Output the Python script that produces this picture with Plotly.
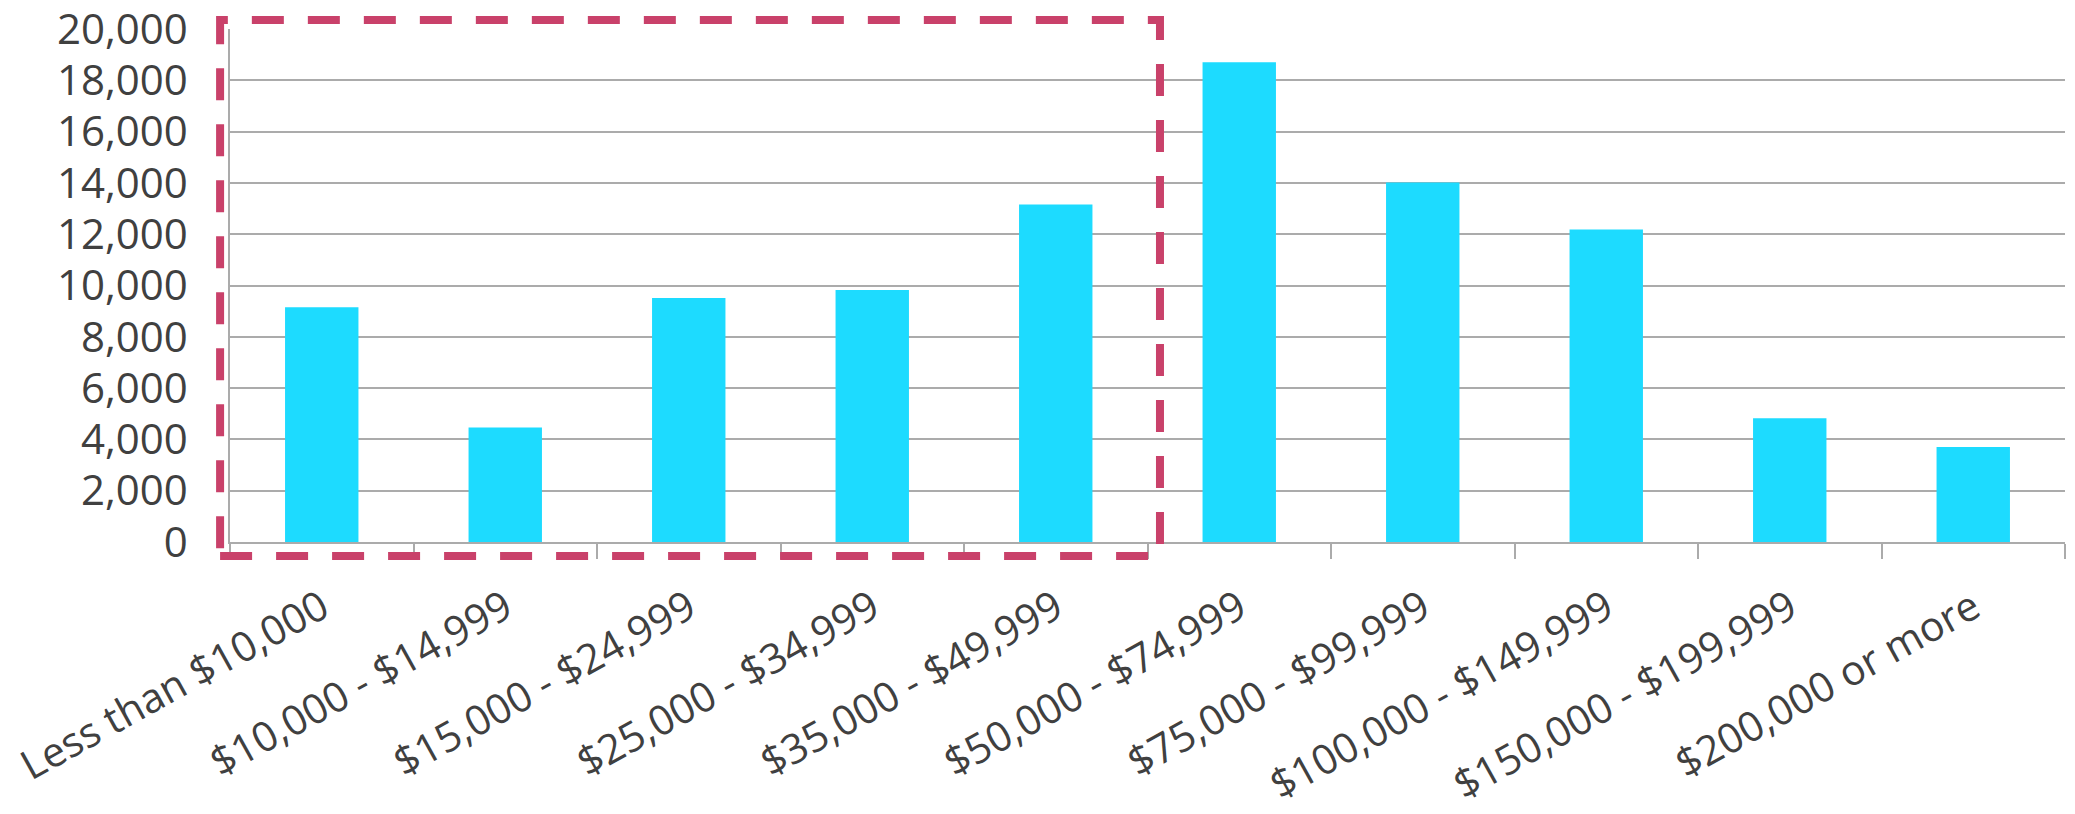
import plotly.graph_objects as go

categories = [
    "Less than $10,000",
    "$10,000 - $14,999",
    "$15,000 - $24,999",
    "$25,000 - $34,999",
    "$35,000 - $49,999",
    "$50,000 - $74,999",
    "$75,000 - $99,999",
    "$100,000 - $149,999",
    "$150,000 - $199,999",
    "$200,000 or more",
]
households = [9150, 4460, 9510, 9820, 13160, 18700, 14020, 12180, 4820, 3700]
y_ticks = [0, 2000, 4000, 6000, 8000, 10000, 12000, 14000, 16000, 18000, 20000]

BAR = "#1DDBFF"
GRID = "#ABABAB"
TEXT = "#404040"
HIGHLIGHT = "#C9416A"
FONT = "Open Sans"
FONT_SIZE = 41

fig = go.Figure(
    go.Bar(
        x=categories,
        y=households,
        marker=dict(color=BAR, line=dict(width=0)),
    )
)

fig.update_layout(
    width=2075,
    height=814,
    margin=dict(l=230, r=10, t=29, b=272),
    paper_bgcolor="white",
    plot_bgcolor="white",
    bargap=0.6,
    showlegend=False,
    font=dict(family=FONT, size=FONT_SIZE, color=TEXT),
)

fig.update_xaxes(
    type="category",
    automargin=False,
    showline=True,
    linecolor=GRID,
    linewidth=1.5,
    ticks="outside",
    tickson="boundaries",
    ticklen=15,
    tickwidth=1.5,
    tickcolor=GRID,
    tickangle=-29,
    ticklabelstandoff=24,
    ticklabeloverflow="allow",
    tickfont=dict(family=FONT, size=FONT_SIZE, color=TEXT),
    showgrid=False,
)

fig.update_yaxes(
    automargin=False,
    range=[0, 20000],
    tickvals=y_ticks,
    tickformat=",d",
    showgrid=True,
    gridcolor=GRID,
    gridwidth=1.5,
    showline=True,
    linecolor=GRID,
    linewidth=1.5,
    ticks="",
    ticklabelstandoff=32,
    ticklabeloverflow="allow",
    tickfont=dict(family=FONT, size=FONT_SIZE + 1, color=TEXT),
    zeroline=False,
)

fig.add_shape(
    type="rect",
    xref="x domain",
    yref="y domain",
    x0=-0.0054,
    x1=0.5068,
    y0=-0.0273,
    y1=1.0175,
    line=dict(color=HIGHLIGHT, width=8, dash="32px,24px"),
    fillcolor="rgba(0,0,0,0)",
    layer="above",
)

fig.write_html("out.html")
